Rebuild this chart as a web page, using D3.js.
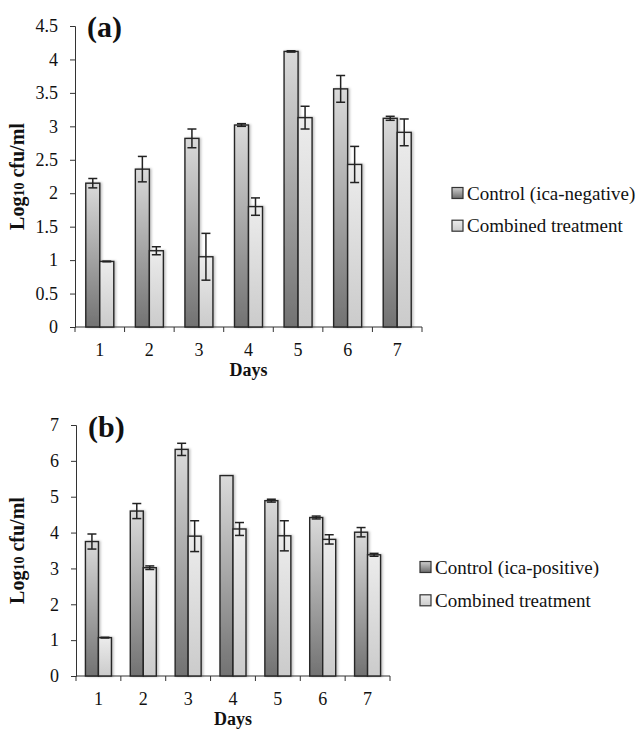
<!DOCTYPE html>
<html>
<head>
<meta charset="utf-8">
<script src="https://cdn.jsdelivr.net/npm/d3@7"></script>
<style>
  body { margin: 0; background: #fff; }
  svg { display: block; }
  text { font-family: "Liberation Serif", "Times New Roman", serif; fill: #111; }
</style>
</head>
<body>
<div id="chart"></div>
<script>
// data
var days = ['1', '2', '3', '4', '5', '6', '7'];

var controlA    = [2.15, 2.36, 2.82, 3.02, 4.12, 3.56, 3.12];
var controlAErr = [0.07, 0.19, 0.14, 0.02, 0.01, 0.20, 0.03];
var combinedA    = [0.98, 1.14, 1.05, 1.80, 3.13, 2.43, 2.91];
var combinedAErr = [0.005, 0.06, 0.35, 0.13, 0.17, 0.27, 0.20];

var controlB    = [3.75, 4.60, 6.32, 5.59, 4.89, 4.42, 4.01];
var controlBErr = [0.21, 0.21, 0.17, 0, 0.04, 0.04, 0.13];
var combinedB    = [1.07, 3.02, 3.90, 4.10, 3.91, 3.81, 3.38];
var combinedBErr = [0.01, 0.05, 0.43, 0.18, 0.42, 0.13, 0.04];

var ticksA = [0, 0.5, 1, 1.5, 2, 2.5, 3, 3.5, 4, 4.5];
var ticksB = [0, 1, 2, 3, 4, 5, 6, 7];

var svg = d3.select('#chart').append('svg')
    .attr('width', 644)
    .attr('height', 729);

var defs = svg.append('defs');
var g1 = defs.append('linearGradient').attr('id', 'gradCtrl')
    .attr('x1', 0).attr('y1', 0).attr('x2', 0).attr('y2', 1);
g1.append('stop').attr('offset', '0%').attr('stop-color', '#dadada');
g1.append('stop').attr('offset', '100%').attr('stop-color', '#727272');
var g2 = defs.append('linearGradient').attr('id', 'gradComb')
    .attr('x1', 0).attr('y1', 0).attr('x2', 0).attr('y2', 1);
g2.append('stop').attr('offset', '0%').attr('stop-color', '#ececec');
g2.append('stop').attr('offset', '100%').attr('stop-color', '#cbcbcb');
var g3 = defs.append('linearGradient').attr('id', 'gradCtrlLeg')
    .attr('x1', 0).attr('y1', 0).attr('x2', 0).attr('y2', 1);
g3.append('stop').attr('offset', '0%').attr('stop-color', '#cfcfcf');
g3.append('stop').attr('offset', '100%').attr('stop-color', '#6a6a6a');
defs.append('filter').attr('id', 'shadow')
    .attr('x', '-20%').attr('y', '-5%').attr('width', '160%').attr('height', '120%')
    .append('feDropShadow')
    .attr('dx', 1.5).attr('dy', 0).attr('stdDeviation', 1)
    .attr('flood-color', '#000').attr('flood-opacity', 0.25);

function drawPanel(cfg) {
    var x = d3.scaleBand()
        .domain(days)
        .range([cfg.left, cfg.right])
        .paddingInner(0)
        .paddingOuter(0);
    var y = d3.scaleLinear()
        .domain([0, cfg.max])
        .range([cfg.bottom, cfg.top]);

    var g = svg.append('g');

    // y axis
    var yAxis = d3.axisLeft(y)
        .tickValues(cfg.ticks)
        .tickSize(5)
        .tickPadding(12)
        .tickFormat(d3.format('~g'));
    var ya = g.append('g')
        .attr('transform', 'translate(' + cfg.left + ',0)')
        .call(yAxis);
    ya.attr('font-family', null);
    ya.select('.domain').attr('stroke', '#333');
    ya.selectAll('.tick line').attr('stroke', '#333');
    ya.selectAll('text')
        .style('font-family', '"Liberation Serif", serif')
        .style('font-size', '18px')
        .attr('fill', '#222');

    // x axis with ticks between categories
    var bounds = days.map(function(d) { return x(d); }).concat([cfg.right]);
    g.append('line')
        .attr('x1', cfg.left).attr('x2', cfg.right)
        .attr('y1', cfg.bottom).attr('y2', cfg.bottom)
        .attr('stroke', '#333');
    g.selectAll('.xtick').data(bounds).enter().append('line')
        .attr('x1', function(d) { return d; })
        .attr('x2', function(d) { return d; })
        .attr('y1', cfg.bottom).attr('y2', cfg.bottom + 5)
        .attr('stroke', '#333');
    g.selectAll('.xlab').data(days).enter().append('text')
        .attr('x', function(d) { return x(d) + x.bandwidth() / 2; })
        .attr('y', cfg.bottom + 29)
        .attr('text-anchor', 'middle')
        .style('font-size', '18px')
        .text(function(d) { return d; });

    var bw = cfg.barW;
    var series = [
        { vals: cfg.ctrl, err: cfg.ctrlErr, fill: 'url(#gradCtrl)', off: -bw },
        { vals: cfg.comb, err: cfg.combErr, fill: 'url(#gradComb)', off: 0 }
    ];

    series.forEach(function(s) {
        var cx = function(d, i) { return x(days[i]) + x.bandwidth() / 2 + s.off; };
        g.selectAll(null).data(s.vals).enter().append('rect')
            .attr('x', cx)
            .attr('y', function(d) { return y(d); })
            .attr('width', bw)
            .attr('height', function(d) { return cfg.bottom - y(d); })
            .attr('fill', s.fill)
            .attr('stroke', '#262626')
            .attr('stroke-width', 1.4)
            .attr('filter', 'url(#shadow)');
    });

    series.forEach(function(s) {
        var idx = d3.range(days.length).filter(function(i) { return s.err[i] > 0; });
        var mid = function(i) { return x(days[i]) + x.bandwidth() / 2 + s.off + bw / 2; };
        var eg = g.selectAll(null).data(idx).enter().append('g');
        eg.append('line')
            .attr('x1', function(i) { return mid(i); })
            .attr('x2', function(i) { return mid(i); })
            .attr('y1', function(i) { return y(s.vals[i] + s.err[i]); })
            .attr('y2', function(i) { return y(s.vals[i] - s.err[i]); })
            .attr('stroke', '#222').attr('stroke-width', 1.5);
        [1, -1].forEach(function(sign) {
            eg.append('line')
                .attr('x1', function(i) { return mid(i) - 4.5; })
                .attr('x2', function(i) { return mid(i) + 4.5; })
                .attr('y1', function(i) { return y(s.vals[i] + sign * s.err[i]); })
                .attr('y2', function(i) { return y(s.vals[i] + sign * s.err[i]); })
                .attr('stroke', '#222').attr('stroke-width', 1.5);
        });
    });

    // panel letter
    g.append('text')
        .attr('x', cfg.left + 12)
        .attr('y', cfg.letterY)
        .style('font-size', '30px')
        .style('font-weight', 'bold')
        .text(cfg.letter);

    // axis titles
    g.append('text')
        .attr('x', (cfg.left + cfg.right) / 2)
        .attr('y', cfg.bottom + 49)
        .attr('text-anchor', 'middle')
        .style('font-size', '18px')
        .style('font-weight', 'bold')
        .text('Days');

    var yl = g.append('text')
        .attr('transform', 'translate(24,' + ((cfg.top + cfg.bottom) / 2) + ') rotate(-90)')
        .attr('text-anchor', 'middle')
        .style('font-size', '20px')
        .style('font-weight', 'bold');
    yl.append('tspan').text('Log');
    yl.append('tspan').style('font-size', '14px').text('10');
    yl.append('tspan').text(' cfu/ml');

    // legend
    var leg = g.append('g');
    var items = [
        { label: cfg.ctrlLabel, fill: 'url(#gradCtrlLeg)' },
        { label: 'Combined treatment', fill: 'url(#gradComb)' }
    ];
    items.forEach(function(it, i) {
        var ly = cfg.legY + i * cfg.legStep;
        leg.append('rect')
            .attr('x', cfg.legX).attr('y', ly - 5.5)
            .attr('width', 11).attr('height', 11)
            .attr('fill', it.fill)
            .attr('stroke', '#333').attr('stroke-width', 1.2);
        leg.append('text')
            .attr('x', cfg.legX + 15)
            .attr('y', ly + 6.5)
            .style('font-size', '19px')
            .text(it.label);
    });
}

drawPanel({
    left: 75, right: 422, top: 26, bottom: 327, max: 4.5, ticks: ticksA,
    barW: 14, ctrl: controlA, ctrlErr: controlAErr, comb: combinedA, combErr: combinedAErr,
    letter: '(a)', letterY: 37, ctrlLabel: 'Control (ica-negative)',
    legX: 452, legY: 193, legStep: 32.7
});

drawPanel({
    left: 76, right: 390, top: 425, bottom: 676, max: 7, ticks: ticksB,
    barW: 13, ctrl: controlB, ctrlErr: controlBErr, comb: combinedB, combErr: combinedBErr,
    letter: '(b)', letterY: 437, ctrlLabel: 'Control (ica-positive)',
    legX: 420, legY: 567, legStep: 33.3
});
</script>
</body>
</html>
